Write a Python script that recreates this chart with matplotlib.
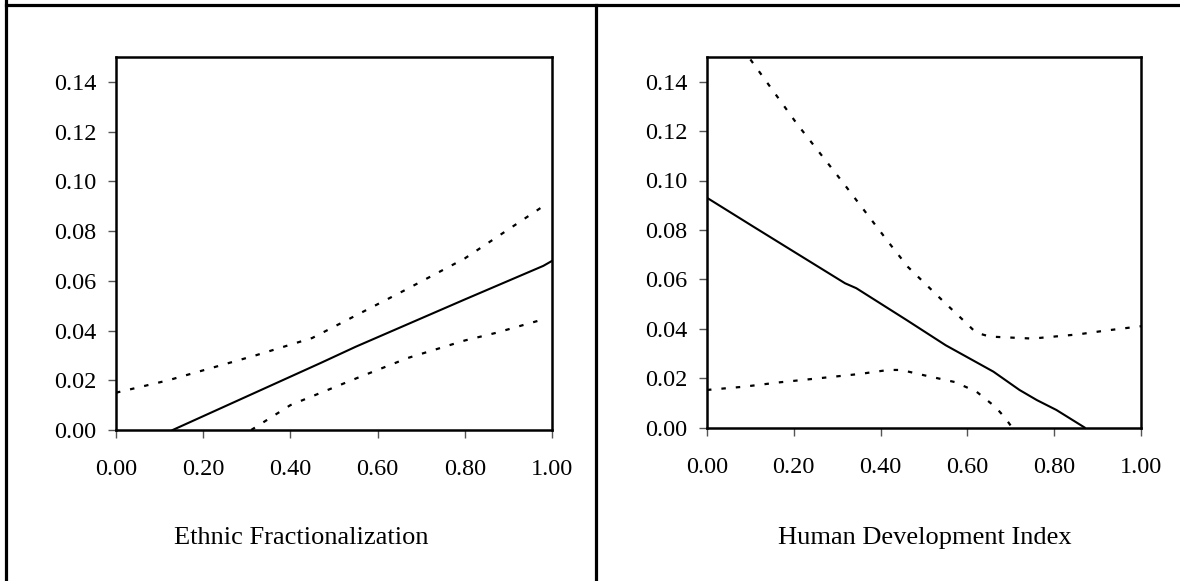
import matplotlib.pyplot as plt
from matplotlib.lines import Line2D

plt.rcParams['font.family'] = ['Liberation Serif', 'DejaVu Serif']

# Ethnic fractionalization panel
ef_x = [0.13, 0.47, 0.55, 0.80, 0.98, 1.00]
ef_y = [0.0, 0.027, 0.0335, 0.0525, 0.066, 0.068]
ef_up_x = [0.0, 0.12, 0.32, 0.45, 0.66, 0.80, 0.98]
ef_up_y = [0.015, 0.020, 0.030, 0.037, 0.056, 0.069, 0.090]
ef_lo_x = [0.31, 0.40, 0.56, 0.67, 0.80, 0.87, 0.98]
ef_lo_y = [0.0, 0.010, 0.0214, 0.029, 0.036, 0.039, 0.0445]

# Human development index panel
hdi_x = [0.0, 0.107, 0.20, 0.318, 0.344, 0.46, 0.55, 0.66, 0.72, 0.76, 0.805, 0.87]
hdi_y = [0.093, 0.0813, 0.0712, 0.0584, 0.0564, 0.0435, 0.0333, 0.0226, 0.0152, 0.0111, 0.0071, 0.0]
hdi_up_x = [0.10, 0.207, 0.314, 0.42, 0.463, 0.545, 0.59, 0.62, 0.652, 0.75, 0.855, 0.917, 1.0]
hdi_up_y = [0.149, 0.123, 0.099, 0.0746, 0.065, 0.051, 0.0435, 0.0384, 0.0368, 0.036, 0.0377, 0.0392, 0.041]
hdi_lo_x = [0.0, 0.084, 0.168, 0.256, 0.353, 0.418, 0.448, 0.486, 0.571, 0.621, 0.664, 0.686, 0.703]
hdi_lo_y = [0.0152, 0.0165, 0.0183, 0.0199, 0.0217, 0.0233, 0.0233, 0.0217, 0.0184, 0.0145, 0.0084, 0.0041, 0.0]

x_ticks = [0.0, 0.2, 0.4, 0.6, 0.8, 1.0]
y_ticks = [0.0, 0.02, 0.04, 0.06, 0.08, 0.10, 0.12, 0.14]
x_labels = ['Ethnic Fractionalization', 'Human Development Index']

W, H = 1180, 581
fig = plt.figure(figsize=(W / 100, H / 100), dpi=100)

# outer frame and divider
for xs, ys in [([6, 6], [0, H]), ([6, W], [5, 5]), ([596, 596], [5, H])]:
    fig.add_artist(Line2D([x / W for x in xs], [1 - y / H for y in ys],
                          color='black', lw=2.3, transform=fig.transFigure))


def make_axes(px_left, px_right, px_top, px_bottom):
    ax = fig.add_axes([px_left / W, 1 - px_bottom / H,
                       (px_right - px_left) / W, (px_bottom - px_top) / H])
    ax.set_xlim(0, 1)
    ax.set_ylim(0, 0.15)
    ax.set_xticks(x_ticks)
    ax.set_yticks(y_ticks)
    ax.set_xticklabels([f'{v:.2f}' for v in x_ticks])
    ax.set_yticklabels([f'{v:.2f}' for v in y_ticks])
    ax.tick_params(length=6, width=1, color='#555555', labelsize=17.5, pad=8)
    ax.tick_params(axis='x', pad=15)
    for s in ax.spines.values():
        s.set_linewidth(1.8)
    return ax


dash = (0, (2, 4.5))

ax1 = make_axes(116, 552, 57, 430)
ax1.plot(ef_x, ef_y, color='black', lw=1.5)
ax1.plot(ef_up_x, ef_up_y, color='black', lw=1.6, linestyle=dash)
ax1.plot(ef_lo_x, ef_lo_y, color='black', lw=1.6, linestyle=dash)

ax2 = make_axes(707, 1141, 57, 427.5)
ax2.plot(hdi_x, hdi_y, color='black', lw=1.5)
ax2.plot(hdi_up_x, hdi_up_y, color='black', lw=1.6, linestyle=dash)
ax2.plot(hdi_lo_x, hdi_lo_y, color='black', lw=1.6, linestyle=dash)

fig.text(301 / W, 1 - 538 / H, x_labels[0], ha='center', va='center', fontsize=19)
fig.text(925 / W, 1 - 538 / H, x_labels[1], ha='center', va='center', fontsize=19)

fig.savefig('out.png', dpi=100)
